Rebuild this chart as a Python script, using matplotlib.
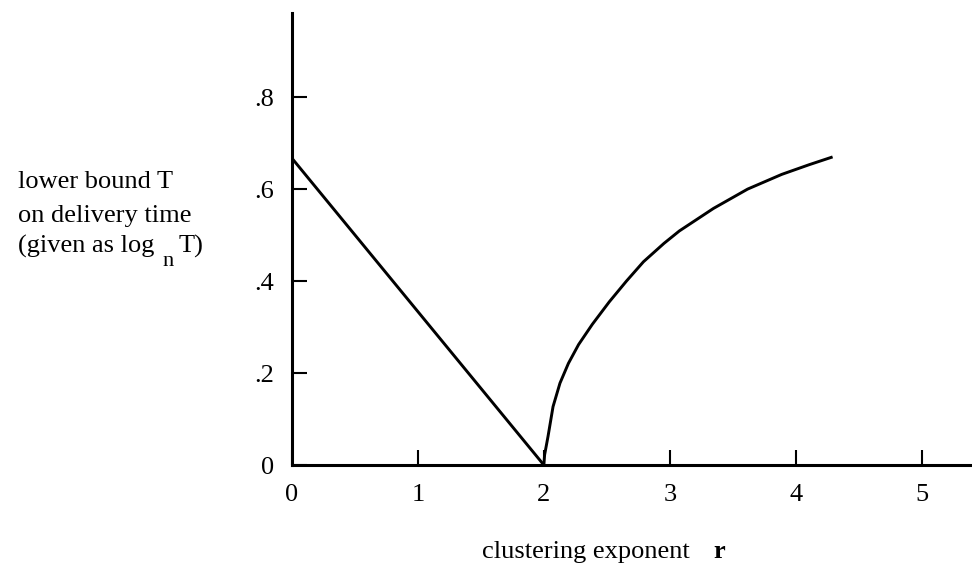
import matplotlib
matplotlib.use("Agg")
import matplotlib.pyplot as plt

plt.rcParams["font.family"] = ["Liberation Serif", "DejaVu Serif"]

# lower bound on delivery time vs clustering exponent
left_r = [0.0, 2.0]
left_T = [0.667, 0.0]
right_r = [2.000, 2.006, 2.033, 2.073, 2.128, 2.195, 2.276, 2.385, 2.520, 2.656,
           2.791, 2.954, 3.076, 3.347, 3.618, 3.889, 4.106, 4.282]
right_T = [0.000, 0.022, 0.062, 0.127, 0.178, 0.221, 0.262, 0.306, 0.355, 0.400,
           0.442, 0.482, 0.509, 0.558, 0.600, 0.632, 0.653, 0.669]

x_ticks = [0, 1, 2, 3, 4, 5]
x_labels = ["0", "1", "2", "3", "4", "5"]
y_ticks = [0, 0.2, 0.4, 0.6, 0.8]
y_labels = ["0", ".2", ".4", ".6", ".8"]

FS = 19

fig = plt.figure(figsize=(9.72, 5.64), dpi=100)
ax = fig.add_axes([292 / 972, 1 - 465 / 564, 680 / 972, 452 / 564])

ax.plot(left_r, left_T, color="black", lw=2.1, solid_joinstyle="miter")
ax.plot(right_r, right_T, color="black", lw=2.1, solid_joinstyle="round")

ax.set_xlim(0, 5.4)
ax.set_ylim(0, 0.983)
ax.spines["top"].set_visible(False)
ax.spines["right"].set_visible(False)
ax.spines["left"].set_linewidth(2.2)
ax.spines["bottom"].set_linewidth(2.2)

ax.set_xticks(x_ticks, x_labels)
ax.set_yticks(y_ticks, y_labels)
ax.tick_params(axis="both", direction="in", length=11, width=1.5, labelsize=FS)
ax.tick_params(axis="x", pad=14)
ax.tick_params(axis="y", pad=13)

# y-axis caption, three lines with a lowered "n" subscript
fig.text(18 / 972, 1 - 188 / 564, "lower bound T", fontsize=FS, va="baseline")
fig.text(18 / 972, 1 - 222 / 564, "on delivery time", fontsize=FS, va="baseline")
fig.text(18 / 972, 1 - 253 / 564, "(given as log", fontsize=FS, va="baseline")
fig.text(162 / 972, 1 - 266 / 564, "n", fontsize=FS * 0.85, va="baseline")
fig.text(179 / 972, 1 - 253 / 564, "T)", fontsize=FS, va="baseline")

fig.text(482 / 972, 1 - 558 / 564, "clustering exponent", fontsize=FS, va="baseline")
fig.text(713 / 972, 1 - 558 / 564, "r", fontsize=FS, fontweight="bold", va="baseline")

fig.savefig("out.png", dpi=100)
